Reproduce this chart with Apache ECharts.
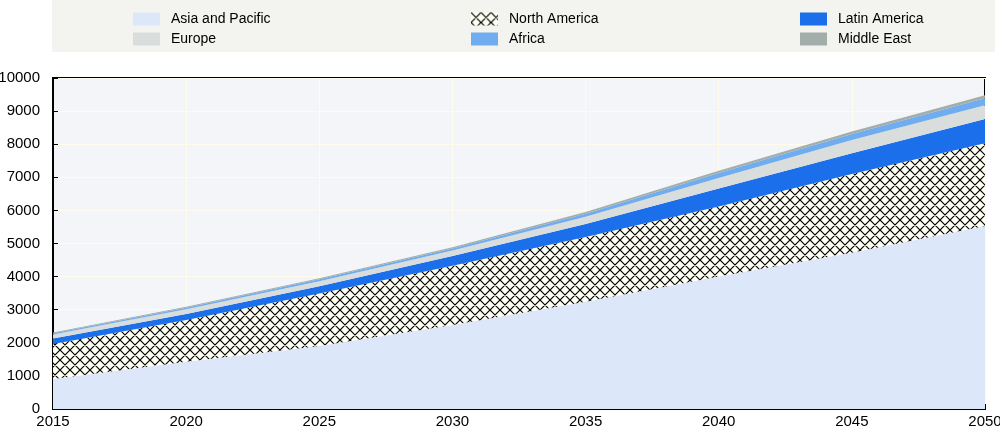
<!DOCTYPE html>
<html>
<head>
<meta charset="utf-8">
<script src="https://cdn.jsdelivr.net/npm/echarts@6/dist/echarts.min.js"></script>
<style>
html,body{margin:0;padding:0;background:#fff;}
#c{width:1000px;height:430px;}
</style>
</head>
<body>
<div id="c"></div>
<script>
const years = ['2015', '2020', '2025', '2030', '2035', '2040', '2045', '2050'];
const asiaPacific = [910, 1430, 1900, 2540, 3240, 4000, 4720, 5530];
const northAmerica = [1050, 1260, 1590, 1790, 1960, 2120, 2380, 2500];
const latinAmerica = [170, 180, 220, 290, 390, 540, 630, 730];
const europe = [120, 140, 150, 170, 220, 320, 400, 420];
const africa = [40, 50, 60, 60, 90, 150, 180, 210];
const middleEast = [20, 30, 30, 40, 50, 70, 70, 90];

const FONT = "'Liberation Sans', Arial, sans-serif";

function hatch() {
  const P = 10;
  const cv = document.createElement('canvas');
  cv.width = P; cv.height = P;
  const ctx = cv.getContext('2d');
  ctx.fillStyle = '#fffff3';
  ctx.fillRect(0, 0, P, P);
  ctx.strokeStyle = '#000';
  ctx.lineWidth = 1.2;
  ctx.beginPath();
  for (const s of [-P, 0, P]) {
    ctx.moveTo(-2 + s, -2); ctx.lineTo(P + 2 + s, P + 2);
    ctx.moveTo(P + 2 + s, -2); ctx.lineTo(-2 + s, P + 2);
  }
  ctx.stroke();
  return cv;
}

function areaSeries(name, data, color) {
  return {
    name: name, type: 'line', stack: 'total', data: data,
    symbol: 'none', showSymbol: false,
    lineStyle: { width: 0 },
    itemStyle: { color: color },
    areaStyle: { color: color, opacity: 1 },
    emphasis: { disabled: true },
    animation: false
  };
}

const hatchPattern = { image: hatch(), repeat: 'repeat' };

const legendCommon = {
  orient: 'vertical', top: 7, itemWidth: 27, itemHeight: 13, itemGap: 6, icon: 'rect',
  textStyle: { fontFamily: FONT, fontSize: 14, color: '#000', padding: [0, 0, 0, 6] },
  selectedMode: false
};

const chart = echarts.init(document.getElementById('c'), null, { renderer: 'canvas' });
chart.setOption({
  animation: false,
  graphic: [{ type: 'rect', shape: { x: 52, y: 0, width: 943, height: 52 }, style: { fill: '#f3f3ef' }, z: -10 }],
  legend: [
    Object.assign({}, legendCommon, { left: 128, data: ['Asia and Pacific', 'Europe'] }),
    Object.assign({}, legendCommon, { left: 466, data: ['North America', 'Africa'] }),
    Object.assign({}, legendCommon, { left: 795, data: ['Latin America', 'Middle East'] })
  ],
  grid: { left: 53, right: 15, top: 78, bottom: 21, outerBoundsMode: 'none', containLabel: false, show: true, backgroundColor: '#f4f5f9', borderColor: '#000', borderWidth: 2 },
  xAxis: {
    type: 'category', data: years, boundaryGap: false,
    axisLine: { show: true, lineStyle: { color: '#000', width: 2 } },
    axisTick: { show: true, inside: true, length: 5, lineStyle: { color: '#000' } },
    axisLabel: { fontFamily: FONT, fontSize: 15, color: '#000', margin: 5 },
    splitLine: { show: true, lineStyle: { color: '#fffcee', width: 1 } }
  },
  yAxis: {
    type: 'value', min: 0, max: 10000, interval: 1000,
    axisLine: { show: true, lineStyle: { color: '#000', width: 2 } },
    axisTick: { show: true, inside: true, length: 5, lineStyle: { color: '#000' } },
    axisLabel: { fontFamily: FONT, fontSize: 15, color: '#000', margin: 13, formatter: v => String(v) },
    splitLine: { show: true, lineStyle: { color: '#fffcee', width: 1 } }
  },
  series: [
    areaSeries('Asia and Pacific', asiaPacific, '#dce8f9'),
    areaSeries('North America', northAmerica, hatchPattern),
    areaSeries('Latin America', latinAmerica, '#1b6fea'),
    areaSeries('Europe', europe, '#d9dedd'),
    areaSeries('Africa', africa, '#6fadf0'),
    areaSeries('Middle East', middleEast, '#a3aeab')
  ]
});
</script>
</body>
</html>
